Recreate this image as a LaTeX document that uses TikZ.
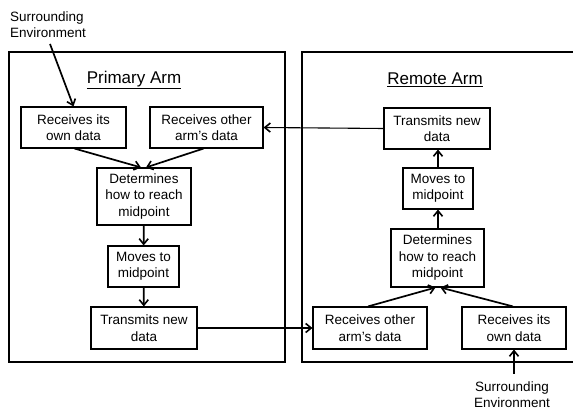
\documentclass[tikz,border=0pt]{standalone}
\usepackage{fontspec}
\setmainfont{Liberation Sans}
\usetikzlibrary{arrows.meta}
\begin{document}
\begin{tikzpicture}[x=1pt,y=-1pt,
  stepbox/.style={draw,line width=1.1pt,inner sep=0pt,align=center,
    font=\fontsize{13.5}{16.5}\selectfont},
  armframe/.style={draw,line width=1.6pt},
  armtitle/.style={font=\fontsize{17}{20}\selectfont},
  envtext/.style={inner sep=0pt,font=\fontsize{13.5}{16}\selectfont},
  arr/.style={line width=1.7pt,-{Straight Barb[length=5.5pt,width=9pt,line width=1.6pt]}},
  link/.style={line width=1.1pt,-{Straight Barb[length=5.5pt,width=9pt,line width=1.6pt]}}]
\useasboundingbox (0,0) rectangle (573,411);

% arm frames
\draw[armframe] (9,52) rectangle (285,362);
\draw[armframe] (590,52) -- (302,52) -- (302,362) -- (590,362);
\node[armtitle] (ptitle) at (134,80) {\underline{Primary Arm}};
\node[armtitle] (rtitle) at (435,80) {\underline{Remote Arm}};

% primary arm steps
\node[stepbox,minimum width=105pt,minimum height=41pt] (lown) at (73.5,127.5) {Receives its\\own data};
\node[stepbox,minimum width=113pt,minimum height=41pt] (lother) at (206.5,127.5) {Receives other\\arm’s data};
\node[stepbox,minimum width=94pt,minimum height=57pt] (ldet) at (144,196.5) {Determines\\how to reach\\midpoint};
\node[stepbox,minimum width=71pt,minimum height=41pt] (lmove) at (143.5,266.5) {Moves to\\midpoint};
\node[stepbox,minimum width=106pt,minimum height=42pt] (ltx) at (144,328) {Transmits new\\data};

% remote arm steps
\node[stepbox,minimum width=106pt,minimum height=41pt] (rtx) at (437,128.5) {Transmits new\\data};
\node[stepbox,minimum width=70pt,minimum height=41pt] (rmove) at (438,188.5) {Moves to\\midpoint};
\node[stepbox,minimum width=93pt,minimum height=58pt] (rdet) at (437.5,258) {Determines\\how to reach\\midpoint};
\node[stepbox,minimum width=114pt,minimum height=42pt] (rother) at (370,328) {Receives other\\arm’s data};
\node[stepbox,minimum width=104pt,minimum height=42pt] (rown) at (514,328) {Receives its\\own data};

% environment inputs
\node[envtext,anchor=west,align=left] (env1) at (10,25) {Surrounding\\Environment};
\node[envtext,align=center] (env2) at (512,394.5) {Surrounding\\Environment};
\coordinate (e1) at (50,44);
\coordinate (e2) at (514,374);

% primary arm flow
\draw[arr] (e1) -- (lown.north);
\draw[arr] ([xshift=1pt]lown.south) -- ([xshift=-3pt]ldet.north);
\draw[arr] ([xshift=-3pt]lother.south) -- ([xshift=2pt]ldet.north);
\draw[arr] (ldet) -- (lmove);
\draw[arr] (lmove) -- (ltx);

% remote arm flow
\draw[arr] (e2) -- (rown.south);
\draw[arr] ([xshift=-2pt]rother.north) -- ([xshift=-2pt]rdet.north |- rdet.south);
\draw[arr] ([xshift=-1pt]rown.north) -- ([xshift=3pt]rdet.north |- rdet.south);
\draw[arr] ([xshift=0.5pt]rdet.north) -- (rmove.south);
\draw[arr] (rmove) -- ([xshift=1pt]rtx.south);

% data exchange between arms
\draw[link] (ltx.east) -- (rother.west);
\draw[link] (rtx.west) -- (lother.east);
\end{tikzpicture}
\end{document}
